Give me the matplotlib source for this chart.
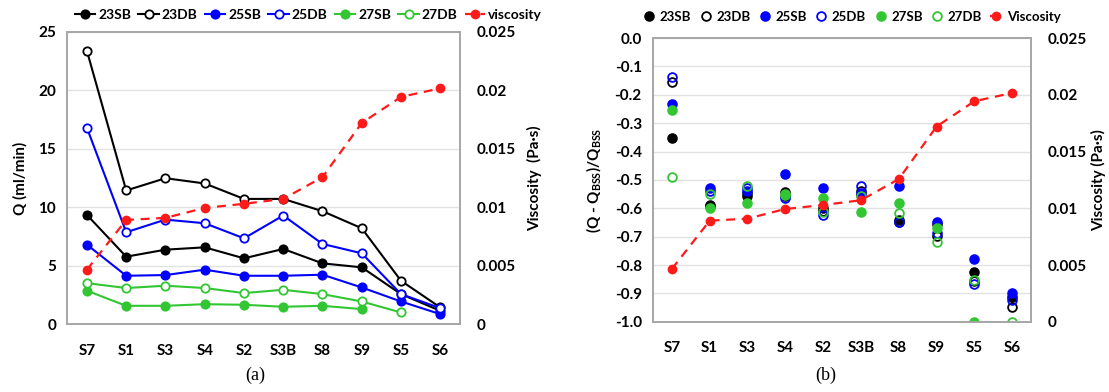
"""
Flow rate and viscosity across the sample series: absolute Q (a) and
relative change against the BSS reference (b), viscosity on the right axis.
"""

import matplotlib
matplotlib.use("Agg")
import matplotlib.pyplot as plt
from matplotlib.ticker import FuncFormatter, MultipleLocator
import numpy as np

plt.rcParams["font.family"] = ["Lato", "DejaVu Sans"]
plt.rcParams["font.weight"] = "bold"
plt.rcParams["axes.unicode_minus"] = False
plt.rcParams["mathtext.fontset"] = "custom"
plt.rcParams["mathtext.rm"] = "Lato:bold"
plt.rcParams["mathtext.bf"] = "Lato:bold"

# ---------------------------------------------------------------------------
# Data
# ---------------------------------------------------------------------------

samples = ["S7", "S1", "S3", "S4", "S2", "S3B", "S8", "S9", "S5", "S6"]
nan = np.nan

# Q (ml/min)
q_23sb = [9.34, 5.77, 6.37, 6.57, 5.63, 6.43, 5.20, 4.86, 2.57, 1.14]
q_23db = [23.36, 11.43, 12.48, 12.03, 10.71, 10.71, 9.66, 8.20, 3.71, 1.43]
q_25sb = [6.80, 4.14, 4.20, 4.66, 4.14, 4.14, 4.23, 3.14, 1.94, 0.86]
q_25db = [16.78, 7.86, 8.94, 8.63, 7.34, 9.29, 6.86, 6.06, 2.57, 1.37]
q_27sb = [2.86, 1.57, 1.57, 1.71, 1.66, 1.49, 1.57, 1.29, nan, nan]
q_27db = [3.51, 3.09, 3.29, 3.09, 2.66, 2.94, 2.57, 1.94, 1.00, nan]

# (Q - Q_BSS) / Q_BSS
r_23sb = [-0.353, -0.588, -0.555, -0.541, -0.600, -0.553, -0.640, -0.655, -0.824, -0.912]
r_23db = [-0.154, -0.592, -0.545, -0.556, -0.610, -0.540, -0.650, -0.697, -0.856, -0.947]
r_25sb = [-0.234, -0.529, -0.540, -0.479, -0.530, -0.545, -0.521, -0.647, -0.779, -0.898]
r_25db = [-0.136, -0.540, -0.530, -0.565, -0.624, -0.521, -0.647, -0.688, -0.867, -0.924]
r_27sb = [-0.253, -0.600, -0.580, -0.550, -0.565, -0.612, -0.582, -0.671, -1.000, nan]
r_27db = [-0.488, -0.549, -0.521, -0.553, -0.612, -0.558, -0.618, -0.718, -0.851, -1.000]

# viscosity (Pa·s)
viscosity = [0.00466, 0.00891, 0.00909, 0.00994, 0.01029, 0.01071,
             0.01257, 0.01720, 0.01943, 0.02016]

BLACK = "#000000"
BLUE = "#0000ff"
GREEN = "#33c633"
RED = "#ff1a1a"
GRID = "#e2e2e2"
SPINE = "#a6a6a6"

series = [
    ("23SB", BLACK, True), ("23DB", BLACK, False),
    ("25SB", BLUE, True), ("25DB", BLUE, False),
    ("27SB", GREEN, True), ("27DB", GREEN, False),
]

x = np.arange(len(samples))


def style_axes(ax, twin):
    for a in (ax, twin):
        for sp in a.spines.values():
            sp.set_color(SPINE)
            sp.set_linewidth(1.2)
        a.tick_params(length=0, labelsize=11, pad=8)
    ax.grid(axis="y", color=GRID, linewidth=1.0)
    ax.set_axisbelow(True)
    ax.set_xlim(-0.5, len(samples) - 0.5)
    ax.set_xticks(x)
    ax.set_xticklabels(samples)
    ax.tick_params(axis="x", pad=14)
    twin.set_ylim(0, 0.025)
    twin.yaxis.set_major_locator(MultipleLocator(0.005))
    twin.yaxis.set_major_formatter(FuncFormatter(lambda v, _: f"{v:g}"))
    twin.tick_params(axis="y", pad=12)


fig = plt.figure(figsize=(11.09, 3.92), dpi=100)

# ---------------------------------------------------------------------------
# (a) absolute flow rate
# ---------------------------------------------------------------------------
ax_a = fig.add_axes([0.0607, 0.173, 0.354, 0.746])
tw_a = ax_a.twinx()
q_data = [q_23sb, q_23db, q_25sb, q_25db, q_27sb, q_27db]
handles_a = []
for (name, color, filled), vals in zip(series, q_data):
    h, = ax_a.plot(x, vals, color=color, lw=1.5, marker="o", ms=6,
                   mfc=color if filled else "white", mec=color, mew=1.3,
                   label=name)
    handles_a.append(h)
hv, = tw_a.plot(x, viscosity, color=RED, lw=1.6, ls=(0, (4, 3)),
                marker="o", ms=6, mfc=RED, mec=RED, label="viscosity")
handles_a.append(hv)

ax_a.set_ylim(0, 25)
ax_a.yaxis.set_major_locator(MultipleLocator(5))
style_axes(ax_a, tw_a)
ax_a.set_ylabel("Q (ml/min)", fontsize=11, fontweight="bold", labelpad=8)
tw_a.set_ylabel("Viscosity  (Pa·s)", fontsize=11, fontweight="bold", labelpad=8)

fig.legend(handles=handles_a, loc="center", bbox_to_anchor=(0.278, 0.962),
           ncol=7, frameon=False, fontsize=10, handlelength=1.5,
           handletextpad=0.2, columnspacing=0.5, borderaxespad=0)

# ---------------------------------------------------------------------------
# (b) relative change against BSS
# ---------------------------------------------------------------------------
ax_b = fig.add_axes([0.5888, 0.179, 0.3409, 0.724])
tw_b = ax_b.twinx()
r_data = [r_23sb, r_23db, r_25sb, r_25db, r_27sb, r_27db]
handles_b = []
for (name, color, filled), vals in zip(series, r_data):
    h, = ax_b.plot(x, vals, ls="none", marker="o", ms=6.3,
                   mfc=color if filled else "none", mec=color, mew=1.3,
                   label=name)
    handles_b.append(h)
hv, = tw_b.plot(x, viscosity, color=RED, lw=1.6, ls=(0, (4, 3)),
                marker="o", ms=6, mfc=RED, mec=RED, label="Viscosity")
handles_b.append(hv)

ax_b.set_ylim(-1.0, 0.0)
ax_b.yaxis.set_major_locator(MultipleLocator(0.1))
ax_b.yaxis.set_major_formatter(FuncFormatter(lambda v, _: f"{v:.1f}"))
style_axes(ax_b, tw_b)
ax_b.set_ylabel(r"(Q - Q$_{\mathrm{BSS}}$)/Q$_{\mathrm{BSS}}$", fontsize=11,
                fontweight="bold", labelpad=8)
tw_b.set_ylabel("Viscosity (Pa·s)", fontsize=11, fontweight="bold", labelpad=3)

fig.legend(handles=handles_b, loc="center", bbox_to_anchor=(0.768, 0.957),
           ncol=7, frameon=False, fontsize=9.5, handlelength=1.0,
           handletextpad=0.3, columnspacing=0.6, borderaxespad=0)

# panel captions
fig.text(0.230, 0.042, "(a)", ha="center", va="center", fontsize=13,
         fontweight="normal", family="Liberation Serif")
fig.text(0.745, 0.042, "(b)", ha="center", va="center", fontsize=13,
         fontweight="normal", family="Liberation Serif")

fig.savefig("out.png", dpi=100)
